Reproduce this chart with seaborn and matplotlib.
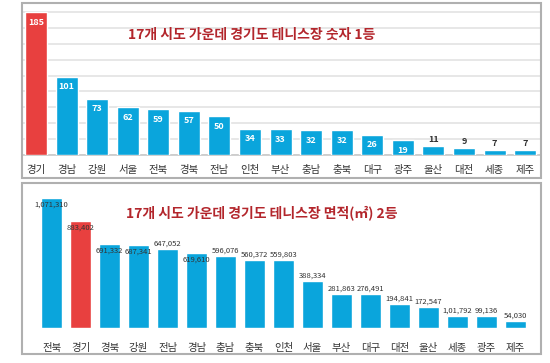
import numpy as np
import matplotlib
matplotlib.use('Agg')
import matplotlib.pyplot as plt
from matplotlib.patches import Rectangle
import seaborn as sns

# --- Data ---
count_regions = ['경기', '경남', '강원', '서울', '전북', '경북', '전남', '인천', '부산',
                 '충남', '충북', '대구', '광주', '울산', '대전', '세종', '제주']
count_values = [185, 101, 73, 62, 59, 57, 50, 34, 33, 32, 32, 26, 19, 11, 9, 7, 7]

area_regions = ['전북', '경기', '경북', '강원', '전남', '경남', '충남', '충북', '인천',
                '서울', '부산', '대구', '대전', '울산', '세종', '광주', '제주']
area_values = [1071310, 883402, 691332, 687341, 647052, 619610, 596076, 560372, 559803,
               388334, 281863, 276491, 194841, 172547, 101792, 99136, 54030]
area_labels = ['1,071,310', '883,402', '691,332', '687,341', '647,052', '619,610', '596,076',
               '560,372', '559,803', '388,334', '281,863', '276,491', '194,841', '172,547',
               '1,01,792', '99,136', '54,030']

title_count = '17개 시도 가운데 경기도 테니스장 숫자 1등'
title_area = '17개 시도 가운데 경기도 테니스장 면적(㎡) 2등'

# --- Style ---
sns.set_style('white')
plt.rcParams['font.family'] = ['Noto Sans CJK KR', 'DejaVu Sans']

BLUE = '#0aa5dc'
RED = '#e8403f'
TITLE_RED = '#b3262c'
TEXT = '#333333'

W, H = 550, 363
fig = plt.figure(figsize=(W / 100, H / 100), dpi=100)


def fig_axes(x0, y0, x1, y1):
    # pixel box (top-left origin) -> figure fraction axes
    return fig.add_axes([x0 / W, 1 - y1 / H, (x1 - x0) / W, (y1 - y0) / H])


def frame(x0, y0, x1, y1):
    fig.patches.append(Rectangle((x0 / W, 1 - y1 / H), (x1 - x0) / W, (y1 - y0) / H,
                                 transform=fig.transFigure, fill=False,
                                 edgecolor='#b0b0b0', linewidth=1.5))


# --- Top panel: number of courts ---
frame(22, 3, 541, 178)
ax1 = fig_axes(22, 3, 541, 155)
colors1 = [RED if r == '경기' else BLUE for r in count_regions]
sns.barplot(x=count_regions, y=count_values, hue=count_regions, palette=colors1,
            legend=False, width=0.72, saturation=1, ax=ax1, zorder=3)
ax1.set_xlim(-0.46, 16.52)
ax1.set_ylim(0, 185 * 152 / 143)
ax1.set_yticks(np.linspace(0, 185, 10))
ax1.yaxis.grid(True, color='#e3e3e3', linewidth=1.2)
ax1.set_axisbelow(True)
ax1.tick_params(axis='y', left=False, labelleft=False)
ax1.tick_params(axis='x', bottom=False, pad=4, labelsize=7.5, labelcolor=TEXT)
for s in ['top', 'right', 'left']:
    ax1.spines[s].set_visible(False)
ax1.spines['bottom'].set_color('#c8c8c8')
ax1.spines['bottom'].set_linewidth(1.2)
ax1.set_xlabel('')
ax1.set_ylabel('')
for i, v in enumerate(count_values):
    if v >= 15:
        ax1.annotate(str(v), (i, v), xytext=(0, -4), textcoords='offset points',
                     ha='center', va='top', color='white', fontsize=6.5,
                     fontweight='bold', zorder=4)
    else:
        ax1.annotate(str(v), (i, v), xytext=(0, 1.5), textcoords='offset points',
                     ha='center', va='bottom', color=TEXT, fontsize=6.5,
                     fontweight='bold', zorder=4)
fig.text(252 / W, 1 - 35 / H, title_count, ha='center', va='center',
         color=TITLE_RED, fontsize=10, fontweight='bold')

# --- Bottom panel: court area ---
frame(22, 183, 541, 354)
ax2 = fig_axes(22, 183, 541, 328)
colors2 = [RED if r == '경기' else BLUE for r in area_regions]
sns.barplot(x=area_regions, y=area_values, hue=area_regions, palette=colors2,
            legend=False, width=0.72, saturation=1, ax=ax2, zorder=3)
ax2.set_xlim(-1.02, 16.88)
ax2.set_ylim(0, 1071310 * 145 / 130)
ax2.tick_params(axis='y', left=False, labelleft=False)
ax2.tick_params(axis='x', bottom=False, pad=7, labelsize=7.5, labelcolor=TEXT)
for s in ['top', 'right', 'left', 'bottom']:
    ax2.spines[s].set_visible(False)
ax2.set_xlabel('')
ax2.set_ylabel('')
label_inside = [True, True, True, True, False, True] + [False] * 11
for i, (v, lab) in enumerate(zip(area_values, area_labels)):
    dy = -5 if label_inside[i] else 1
    va = 'center' if label_inside[i] else 'bottom'
    ax2.annotate(lab, (i, v), xytext=(0, dy), textcoords='offset points',
                 ha='center', va=va, color=TEXT, fontsize=5.5, zorder=4)
fig.text(262 / W, 1 - 213 / H, title_area, ha='center', va='center',
         color=TITLE_RED, fontsize=10, fontweight='bold')

fig.savefig('out.png', dpi=100)
